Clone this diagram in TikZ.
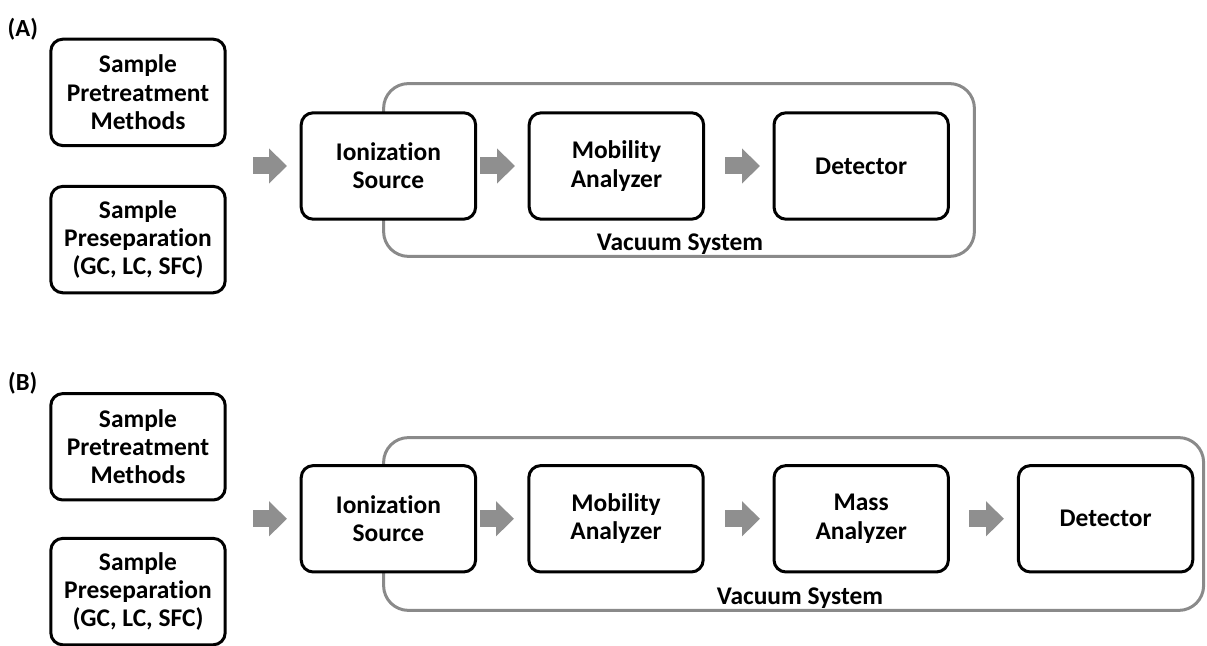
\documentclass[tikz,border=0pt]{standalone}
\usepackage{fontspec}
\setmainfont{Carlito}[Ligatures=CommonOff]
\usetikzlibrary{arrows.meta}
\pgfdeclarelayer{edgelayer}
\pgfdeclarelayer{nodelayer}
\pgfsetlayers{edgelayer,nodelayer,main}
\tikzstyle{none}=[inner sep=0pt]
\definecolor{shaft}{rgb}{0.56,0.56,0.56}
\definecolor{chamber}{rgb}{0.54,0.54,0.54}
\tikzstyle{module}=[rectangle, draw=black, line width=0.075cm, rounded corners=0.3cm, fill=white, minimum width=4.36cm, minimum height=2.66cm, align=center, inner sep=0pt, font=\bfseries\fontsize{18.1}{20.1}\selectfont]
\tikzstyle{vacuum}=[draw=chamber, line width=0.075cm, rounded corners=0.62cm]
\tikzstyle{flow}=[draw=shaft, line width=0.425cm, -{Triangle[width=0.85cm,length=0.45cm]}]
\tikzstyle{caption}=[inner sep=0pt, font=\bfseries\fontsize{18.1}{20.1}\selectfont]
\tikzstyle{panel}=[inner sep=0pt, font=\bfseries\fontsize{17.5}{20}\selectfont]

\begin{document}
\begin{tikzpicture}
	\useasboundingbox (0, 0) rectangle (30.175, 16.15);
	\begin{pgfonlayer}{nodelayer}
		% (A) ion mobility only
		\node [style=panel] (0) at (0.57, 15.43) {(A)};
		\node [style=module] (1) at (3.45, 13.84) {Sample\\Pretreatment\\Methods};
		\node [style=module] (2) at (3.45, 10.16) {Sample\\Preseparation\\(GC, LC, SFC)};
		\node [style=module] (3) at (9.71, 12.0) {Ionization\\Source};
		\node [style=module] (4) at (15.41, 12.0) {Mobility\\Analyzer};
		\node [style=module] (5) at (21.53, 12.0) {Detector};
		\node [style=caption] (6) at (17.0, 10.05) {Vacuum System};
		\node [style=none] (7) at (9.59, 14.06) {};
		\node [style=none] (8) at (24.36, 9.74) {};
		\node [style=none] (9) at (6.325, 12.0) {};
		\node [style=none] (10) at (7.175, 12.0) {};
		\node [style=none] (11) at (12.0, 12.0) {};
		\node [style=none] (12) at (12.875, 12.0) {};
		\node [style=none] (13) at (18.125, 12.0) {};
		\node [style=none] (14) at (19.0, 12.0) {};
		% (B) ion mobility with mass analyzer
		\node [style=panel] (15) at (0.57, 6.58) {(B)};
		\node [style=module] (16) at (3.45, 4.98) {Sample\\Pretreatment\\Methods};
		\node [style=module] (17) at (3.45, 1.36) {Sample\\Preseparation\\(GC, LC, SFC)};
		\node [style=module] (18) at (9.71, 3.18) {Ionization\\Source};
		\node [style=module] (19) at (15.4, 3.18) {Mobility\\Analyzer};
		\node [style=module] (20) at (21.53, 3.18) {Mass\\Analyzer};
		\node [style=module] (21) at (27.64, 3.18) {Detector};
		\node [style=caption] (22) at (20.0, 1.2) {Vacuum System};
		\node [style=none] (23) at (9.59, 5.21) {};
		\node [style=none] (24) at (30.09, 0.89) {};
		\node [style=none] (25) at (6.325, 3.18) {};
		\node [style=none] (26) at (7.175, 3.18) {};
		\node [style=none] (27) at (12.0, 3.18) {};
		\node [style=none] (28) at (12.85, 3.18) {};
		\node [style=none] (29) at (18.125, 3.18) {};
		\node [style=none] (30) at (19.0, 3.18) {};
		\node [style=none] (31) at (24.225, 3.18) {};
		\node [style=none] (32) at (25.1, 3.18) {};
	\end{pgfonlayer}
	\begin{pgfonlayer}{edgelayer}
		\draw [style=vacuum] (7.center) rectangle (8.center);
		\draw [style=flow] (9.center) to (10.center);
		\draw [style=flow] (11.center) to (12.center);
		\draw [style=flow] (13.center) to (14.center);
		\draw [style=vacuum] (23.center) rectangle (24.center);
		\draw [style=flow] (25.center) to (26.center);
		\draw [style=flow] (27.center) to (28.center);
		\draw [style=flow] (29.center) to (30.center);
		\draw [style=flow] (31.center) to (32.center);
	\end{pgfonlayer}
\end{tikzpicture}
\end{document}
